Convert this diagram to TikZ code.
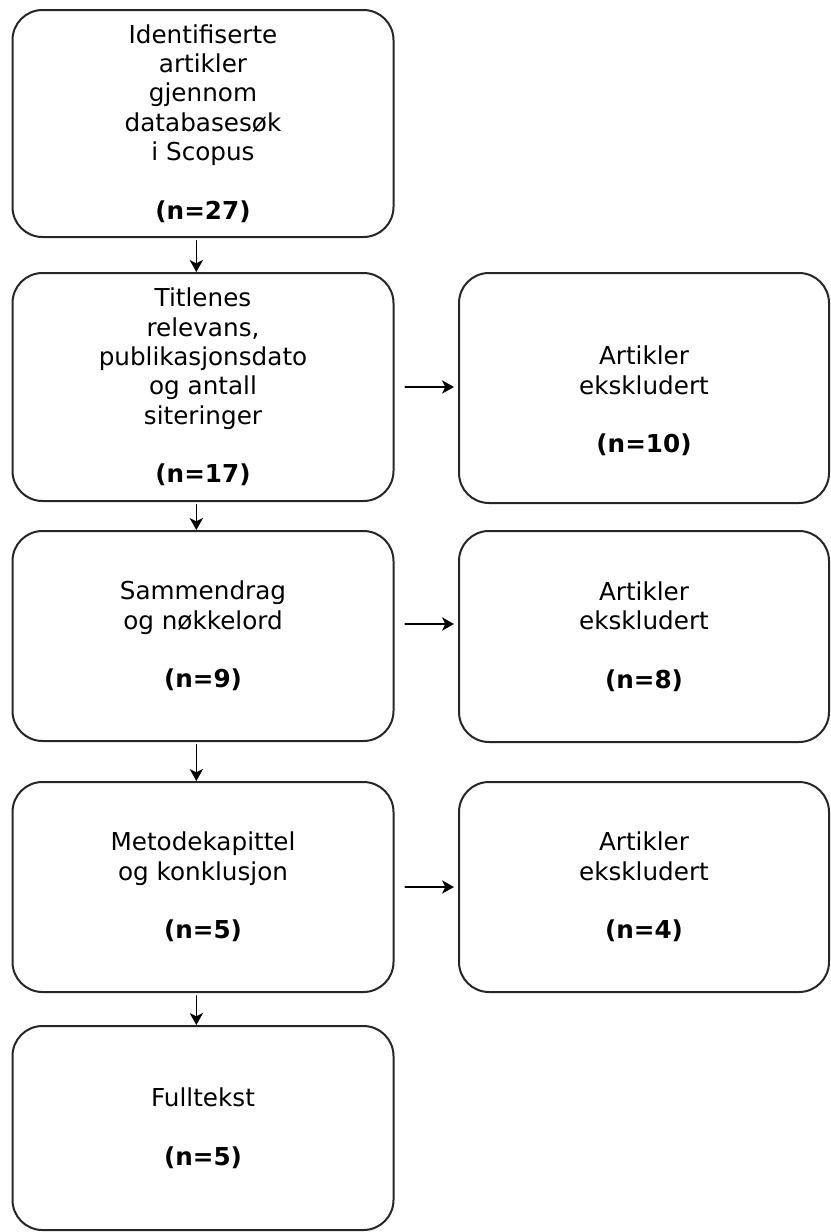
\documentclass[tikz,border=0pt]{standalone}
\usepackage{fontspec}
\setmainfont{DejaVu Sans}
\usetikzlibrary{arrows.meta}

\tikzset{
  flowbox/.style={draw=black!85, line width=1.5pt, rounded corners=22.5pt,
    align=center, inner sep=0pt, minimum width=285.75pt,
    font=\fontsize{18.5pt}{22pt}\selectfont},
  exclbox/.style={flowbox, minimum width=277.5pt},
  flowarrow/.style={-{Stealth[length=9pt,width=10pt,inset=2.5pt]}, line width=1.1pt}
}
\newcommand{\blankline}{\\[22pt]}

\begin{document}
\begin{tikzpicture}[line cap=round,line join=round,x=0.75pt,y=-0.75pt]
\useasboundingbox (0,0) rectangle (831,1232);
% left column
\node[flowbox, minimum height=170.25pt] (b1) at (203,123.5) {Identifiserte\\artikler\\gjennom\\databasesøk\\i Scopus\blankline\textbf{(n=27)}};
\node[flowbox, minimum height=171pt] (b2) at (203,387) {Titlenes\\relevans,\\publikasjonsdato\\og antall\\siteringer\blankline\textbf{(n=17)}};
\node[flowbox, minimum height=157.5pt] (b3) at (203,636) {Sammendrag\\og nøkkelord\blankline\textbf{(n=9)}};
\node[flowbox, minimum height=157.5pt] (b4) at (203,887) {Metodekapittel\\og konklusjon\blankline\textbf{(n=5)}};
\node[flowbox, minimum height=153pt] (b5) at (203,1128) {Fulltekst\blankline\textbf{(n=5)}};
% right column
\node[exclbox, minimum height=172.5pt] (e1) at (644,388) {\rule{0pt}{11.5pt}\\Artikler\\ekskludert\blankline\textbf{(n=10)}};
\node[exclbox, minimum height=158.25pt] (e2) at (644,636.5) {Artikler\\ekskludert\blankline\textbf{(n=8)}};
\node[exclbox, minimum height=157.5pt] (e3) at (644,887) {Artikler\\ekskludert\blankline\textbf{(n=4)}};
% arrows
\draw[flowarrow, shorten <=2pt] ([xshift=-5pt]b1.south) -- ([xshift=-5pt]b2.north);
\draw[flowarrow, shorten <=2pt] ([xshift=-5pt]b2.south) -- ([xshift=-5pt]b3.north);
\draw[flowarrow, shorten <=2pt] ([xshift=-5pt]b3.south) -- ([xshift=-5pt]b4.north);
\draw[flowarrow, shorten <=2pt] ([xshift=-5pt]b4.south) -- ([xshift=-5pt]b5.north);
\draw[flowarrow, shorten <=8pt, shorten >=3pt] (b2.east) -- (b2.east -| e1.west);
\draw[flowarrow, shorten <=8pt, shorten >=3pt] ([yshift=9pt]b3.east) -- ([yshift=9pt]b3.east -| e2.west);
\draw[flowarrow, shorten <=8pt, shorten >=3pt] (b4.east) -- (b4.east -| e3.west);
\end{tikzpicture}
\end{document}
